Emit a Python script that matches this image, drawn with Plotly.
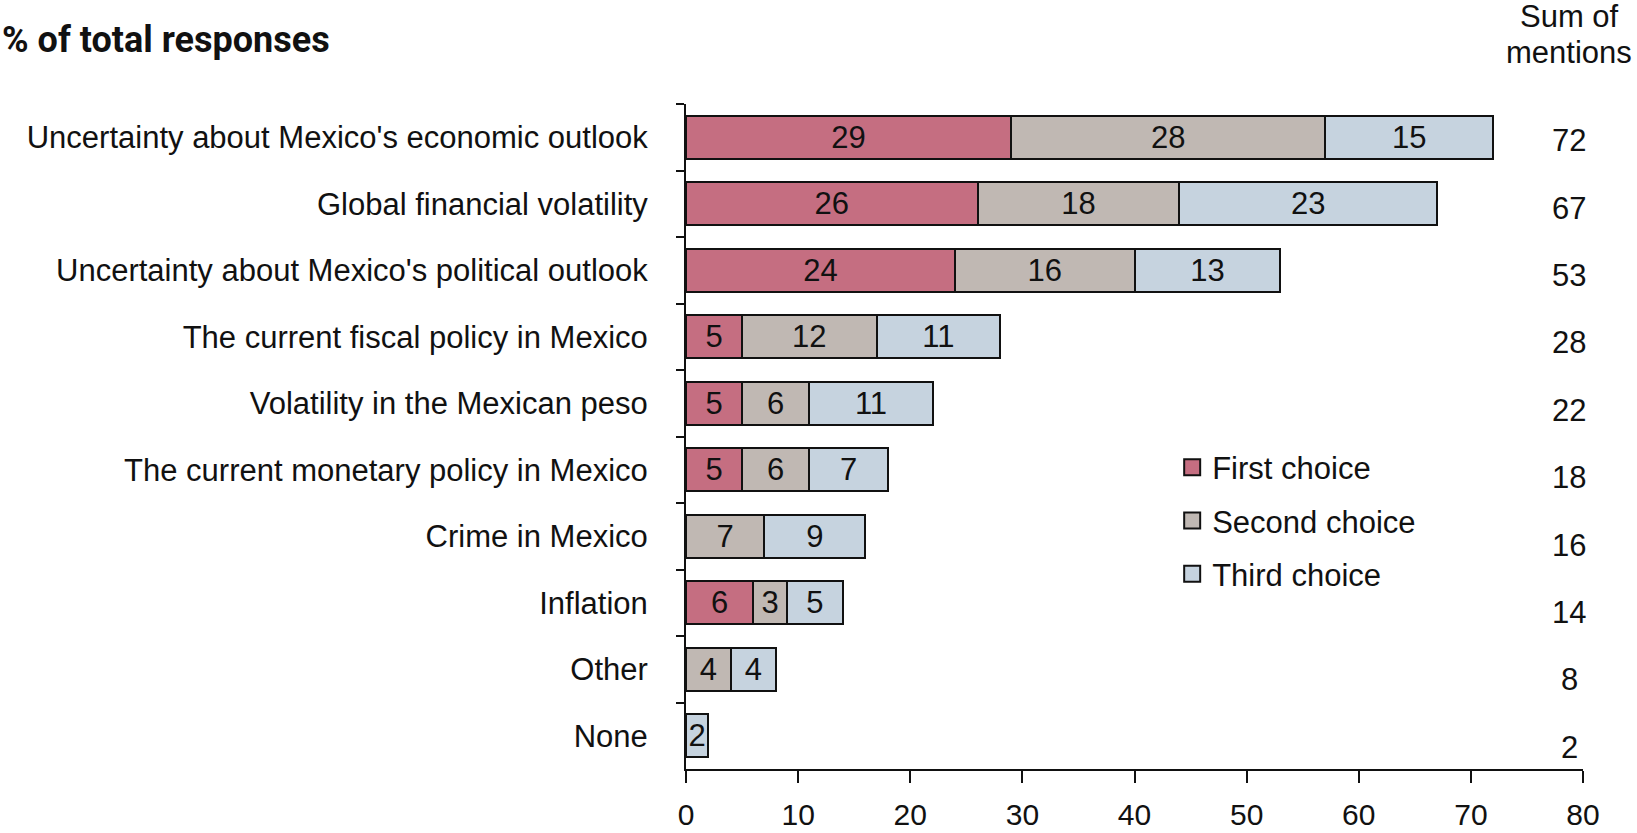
import plotly.graph_objects as go

categories = [
    "Uncertainty about Mexico's economic outlook",
    "Global financial volatility",
    "Uncertainty about Mexico's political outlook",
    "The current fiscal policy in Mexico",
    "Volatility in the Mexican peso",
    "The current monetary policy in Mexico",
    "Crime in Mexico",
    "Inflation",
    "Other",
    "None",
]
first_choice = [29, 26, 24, 5, 5, 5, None, 6, None, None]
second_choice = [28, 18, 16, 12, 6, 6, 7, 3, 4, None]
third_choice = [15, 23, 13, 11, 11, 7, 9, 5, 4, 2]
sum_of_mentions = [72, 67, 53, 28, 22, 18, 16, 14, 8, 2]
x_ticks = [0, 10, 20, 30, 40, 50, 60, 70, 80]

series = [
    ("First choice", first_choice, "#C56E81"),
    ("Second choice", second_choice, "#C0B8B3"),
    ("Third choice", third_choice, "#C6D3DF"),
]

FONT = "Liberation Sans, Arial, sans-serif"
FS = 31
INK = "#111111"

fig = go.Figure()
for name, vals, color in series:
    fig.add_trace(go.Bar(
        y=categories, x=vals, name=name, orientation="h",
        marker=dict(color=color, line=dict(color=INK, width=2)),
        text=[("" if v is None else str(v)) for v in vals],
        textposition="inside", insidetextanchor="middle",
        textfont=dict(family=FONT, size=FS, color=INK),
        constraintext="none",
        showlegend=False,
    ))

# legend entries with larger square swatches
for name, vals, color in series:
    fig.add_trace(go.Scatter(
        x=[None], y=[None], mode="markers", name=name,
        marker=dict(symbol="square", size=16, color=color, line=dict(color=INK, width=2)),
        legendgroup=name, showlegend=True,
    ))

for i, (cat, s) in enumerate(zip(categories, sum_of_mentions)):
    fig.add_annotation(
        x=1.0, xref="paper", y=cat, yref="y", xshift=-14,
        yshift=-0.9 * i - 3.5,
        text=str(s), showarrow=False, xanchor="center",
        font=dict(family=FONT, size=FS, color=INK),
    )

for line_text, shift in (("Sum of", 88), ("mentions", 52)):
    fig.add_annotation(
        x=1.0, xref="paper", y=1.0, yref="paper", xshift=-14, yshift=shift,
        text=line_text, showarrow=False, xanchor="center", yanchor="middle",
        font=dict(family=FONT, size=FS, color=INK),
    )

fig.add_annotation(
    x=0, xref="paper", y=1.0, yref="paper", xshift=-686, yshift=64,
    text="<b>% of total responses</b>", showarrow=False, xanchor="left", yanchor="middle",
    font=dict(family="Roboto, sans-serif", size=36, color=INK),
)

fig.update_layout(
    width=1637, height=833,
    barmode="stack", bargap=0.35,
    plot_bgcolor="white", paper_bgcolor="white",
    margin=dict(l=686, r=54, t=104, b=64),
    font=dict(family=FONT, size=FS, color=INK),
    showlegend=True,
    legend=dict(
        x=0.542, y=0.494, xanchor="left", yanchor="top",
        font=dict(family=FONT, size=FS, color=INK),
        bgcolor="rgba(0,0,0,0)", tracegroupgap=10,
        itemwidth=30,
    ),
    xaxis=dict(
        range=[0, 80], tickvals=x_ticks, ticktext=[str(t) for t in x_ticks],
        showgrid=False, zeroline=False, automargin=False,
        showline=True, linecolor=INK, linewidth=2,
        ticks="outside", ticklen=12, tickwidth=2, tickcolor=INK,
        tickfont=dict(family=FONT, size=30, color=INK),
        ticklabelstandoff=6,
    ),
    yaxis=dict(
        autorange="reversed", automargin=False,
        showgrid=False, zeroline=False,
        showline=True, linecolor=INK, linewidth=2,
        ticks="outside", ticklen=8, tickwidth=2, tickcolor=INK,
        tickson="boundaries",
        tickfont=dict(family=FONT, size=FS, color=INK),
        ticklabelstandoff=30,
    ),
)

# remove the default page margin so the figure fills the window exactly
fig.write_html(
    "out.html",
    config={"displayModeBar": False},
    post_script="document.body.style.margin='0';document.body.style.overflow='hidden';",
)
